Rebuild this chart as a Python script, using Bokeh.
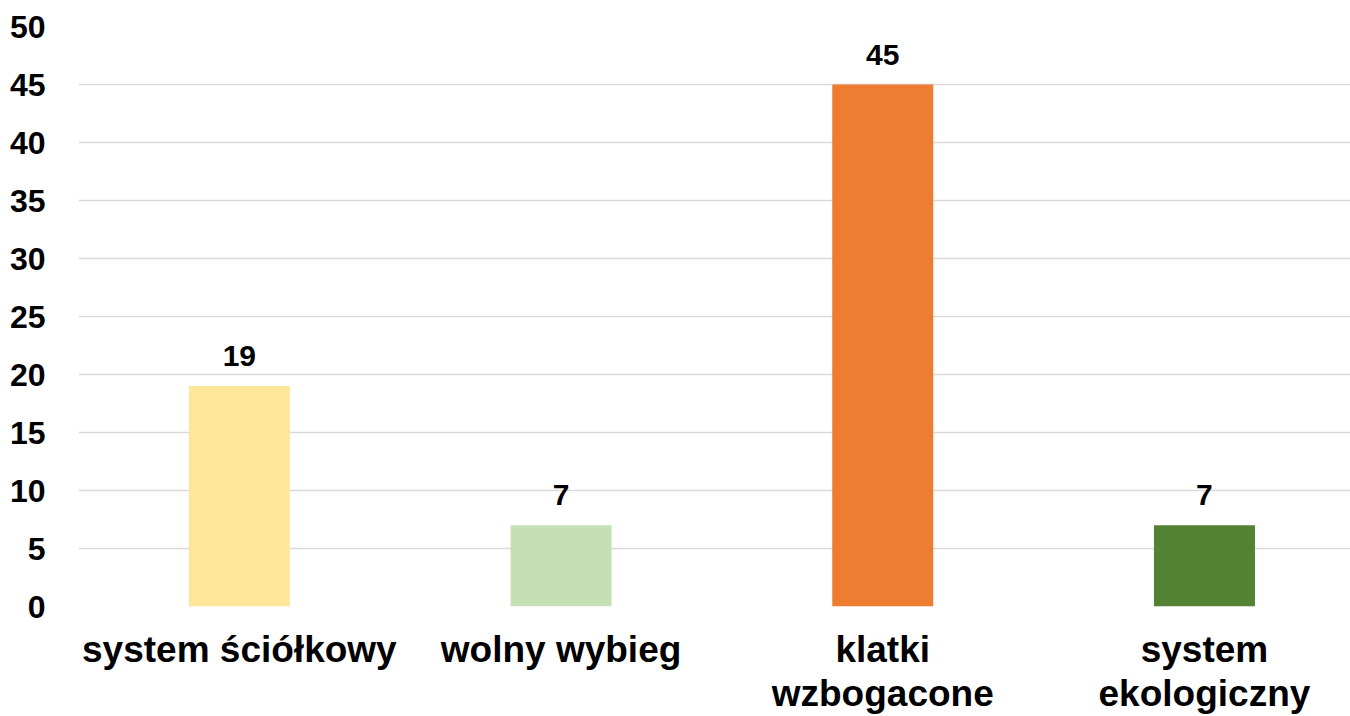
import numpy as np
from bokeh.plotting import figure
from bokeh.models import Range1d, FixedTicker, ColumnDataSource
from bokeh.embed import file_html
from bokeh.resources import INLINE
from bokeh.core.properties import value

categories = ["system ściółkowy", "wolny wybieg", "klatki\nwzbogacone", "system\nekologiczny"]
values = [19, 7, 45, 7]
colors = ["#FFE699", "#C5E0B4", "#ED7D31", "#548235"]
y_ticks = [0, 5, 10, 15, 20, 25, 30, 35, 40, 45, 50]

xpos = (np.arange(len(categories)) + 0.5).tolist()
labels = [str(v) for v in values]

src = ColumnDataSource(dict(x=xpos, val=values, col=colors, lab=labels))

p = figure(
    width=1350, height=716,
    x_range=Range1d(0, 3.954),
    y_range=Range1d(0, 50),
    output_backend="svg", toolbar_location=None,
    min_border_left=78, min_border_right=0, min_border_top=26, min_border_bottom=100,
)
p.outline_line_color = None
p.background_fill_color = "white"
p.border_fill_color = "white"

p.vbar(x="x", top="val", width=0.314, color="col", source=src, line_color=None)
p.text(x="x", y="val", text="lab", source=src, y_offset=-30,
       text_align="center", text_baseline="alphabetic",
       text_font=value("Liberation Sans"), text_font_style="bold",
       text_font_size="30px", text_color="black")

p.xgrid.grid_line_color = None
p.ygrid.grid_line_color = "#D9D9D9"
p.ygrid.grid_line_width = 1.5
p.yaxis.ticker = FixedTicker(ticks=y_ticks)
p.xaxis.ticker = FixedTicker(ticks=xpos)
p.xaxis.major_label_overrides = {x: c for x, c in zip(xpos, categories)}

for ax in (p.xaxis, p.yaxis):
    ax.axis_line_color = None
    ax.major_tick_line_color = None
    ax.minor_tick_line_color = None
    ax.major_label_text_font = "Liberation Sans"
    ax.major_label_text_font_style = "bold"
    ax.major_label_text_color = "black"

p.yaxis.major_label_text_font_size = "32px"
p.yaxis.major_label_standoff = 27
p.xaxis.major_label_text_font_size = "37px"
p.xaxis.major_label_standoff = 16
p.xaxis.major_label_text_line_height = 1.08

open("out.html", "w").write(file_html(p, INLINE))
